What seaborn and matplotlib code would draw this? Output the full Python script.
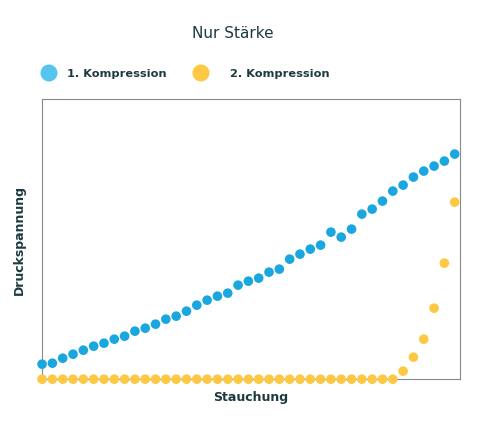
import matplotlib
matplotlib.use("Agg")
import matplotlib.pyplot as plt
import seaborn as sns
import pandas as pd

stauchung = list(range(41))
kompression1 = [15,16,21,25,29,33,36,40,43,48,51,55,60,63,68,74,79,83,86,94,98,101,107,110,120,125,130,134,147,142,150,165,170,178,188,194,202,208,213,218,225]
kompression2 = [0]*35 + [8,22,40,71,116,177]

df = pd.DataFrame({"x": stauchung*2, "y": kompression1+kompression2,
                   "Serie": ["1. Kompression"]*41 + ["2. Kompression"]*41})

sns.set_style("white")
txt = "#1d3a40"
fig = plt.figure(figsize=(4.95, 4.35), dpi=100)
ax = fig.add_axes([0.085, 0.126, 0.844, 0.644])
sns.scatterplot(data=df, x="x", y="y", hue="Serie", palette=["#1aa7e0", "#fdc843"],
                s=48, edgecolor="none", ax=ax, legend=False, clip_on=False, zorder=3)
ax.set_xlim(0, 40.5)
ax.set_ylim(0, 280)
ax.set_xticks([]); ax.set_yticks([])
for sp in ax.spines.values():
    sp.set_color("#888888"); sp.set_linewidth(0.8)
ax.set_xlabel("Stauchung", color=txt, fontsize=9, fontweight="bold", labelpad=8)
ax.set_ylabel("Druckspannung", color=txt, fontsize=9, fontweight="bold", labelpad=12)
fig.text(0.47, 0.924, "Nur Stärke", ha="center", va="center", color=txt, fontsize=11)
fig.text(0.135, 0.829, "1. Kompression", ha="left", va="center", color=txt, fontsize=8.2, fontweight="semibold")
fig.text(0.465, 0.829, "2. Kompression", ha="left", va="center", color=txt, fontsize=8.2, fontweight="semibold")
lax = fig.add_axes([0, 0, 1, 1], facecolor="none")
lax.set_xlim(0, 495); lax.set_ylim(435, 0); lax.axis("off")
lax.scatter([49, 201], [74, 74], s=150, c=["#56c5ef", "#fdc843"], edgecolor="none")
fig.savefig("out.png", dpi=100)
